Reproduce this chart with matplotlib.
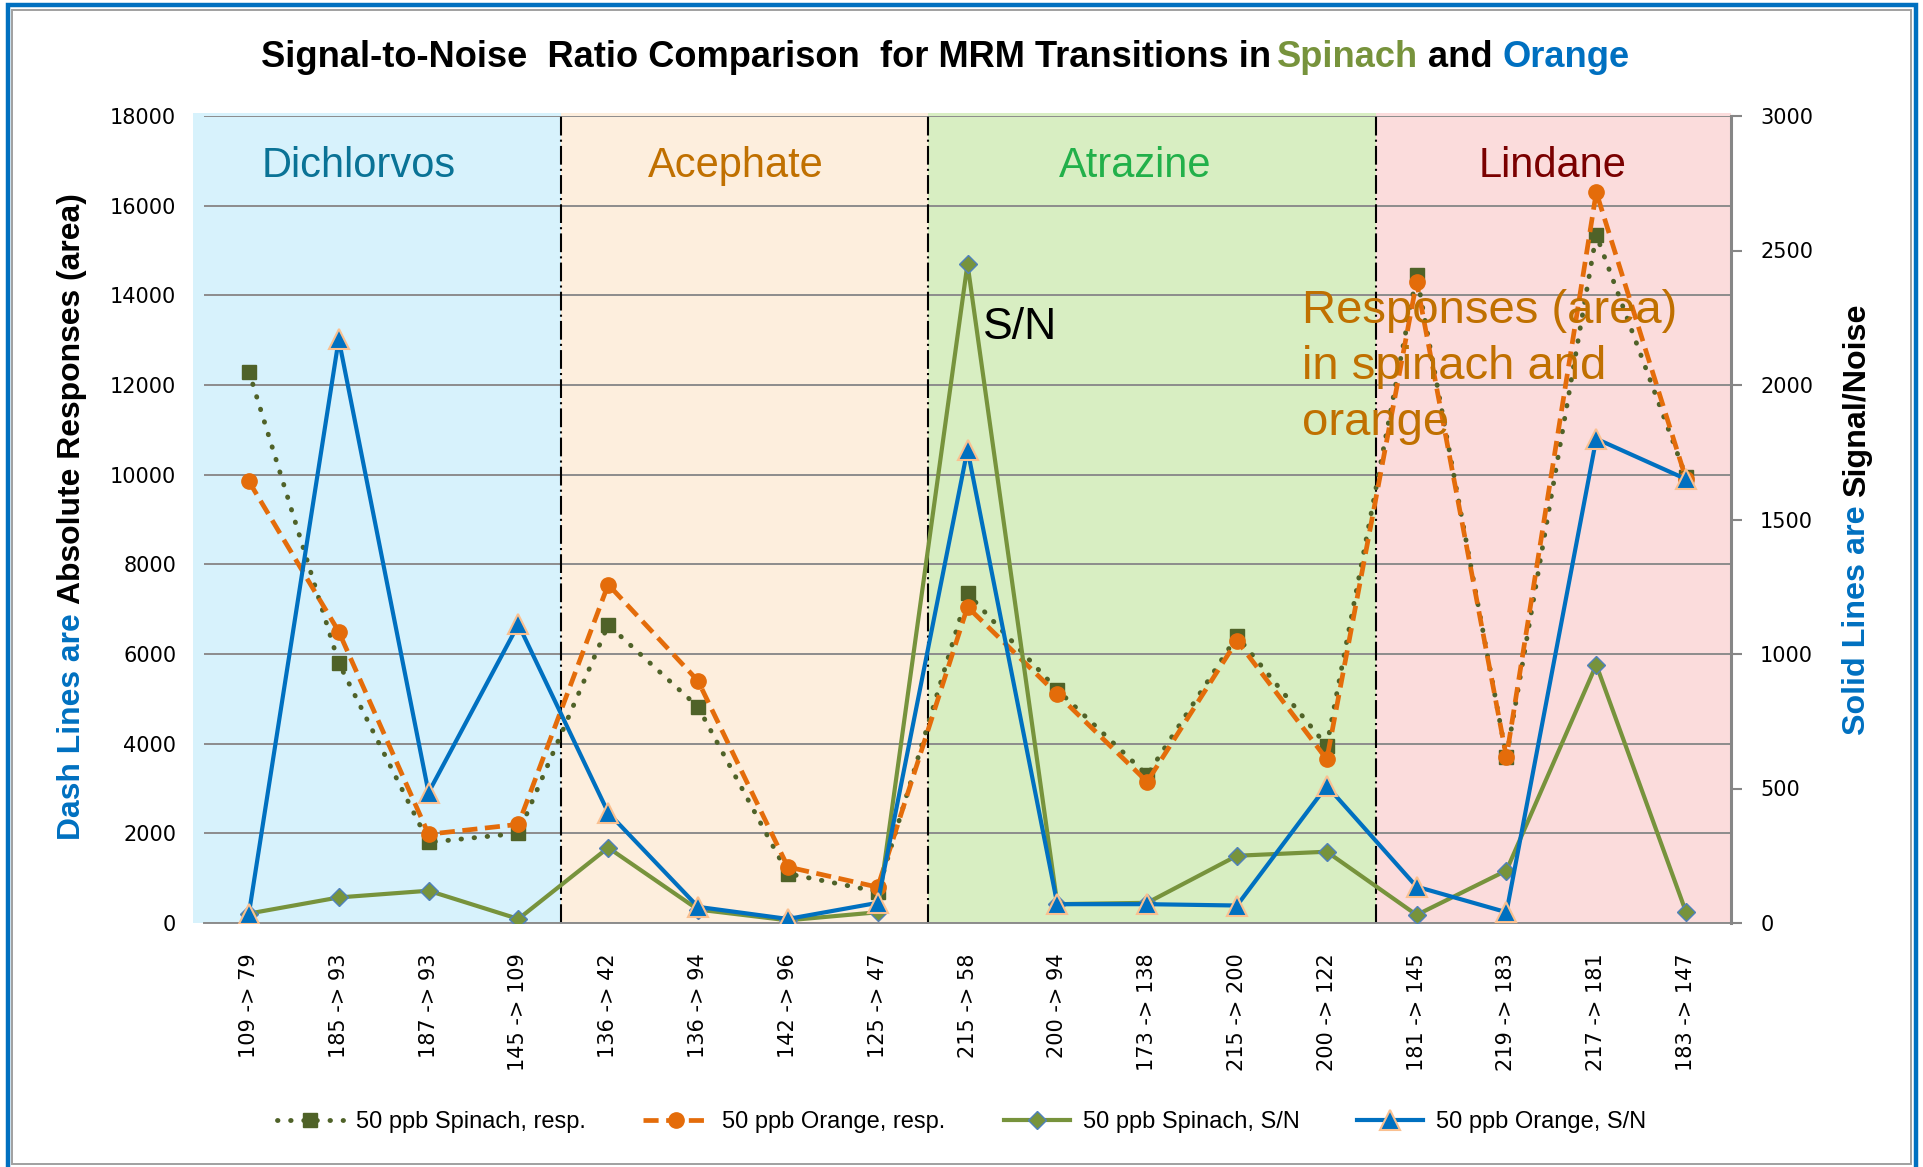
import matplotlib
matplotlib.use("Agg")
import matplotlib.pyplot as plt
from matplotlib import font_manager as fm
from matplotlib.patches import Rectangle
import numpy as np

# 數據
transitions = ["109 -> 79", "185 -> 93", "187 -> 93", "145 -> 109",
               "136 -> 42", "136 -> 94", "142 -> 96", "125 -> 47",
               "215 -> 58", "200 -> 94", "173 -> 138", "215 -> 200", "200 -> 122",
               "181 -> 145", "219 -> 183", "217 -> 181", "183 -> 147"]
spinach_resp = [12300, 5800, 1800, 2000, 6650, 4820, 1100, 700,
                7350, 5200, 3300, 6400, 3950, 14450, 3700, 15350, 9950]
orange_resp = [9850, 6500, 1980, 2200, 7550, 5400, 1250, 800,
               7050, 5100, 3150, 6300, 3650, 14300, 3700, 16300, 9900]
spinach_sn = [35, 95, 120, 15, 280, 50, 10, 40,
              2450, 70, 75, 250, 265, 30, 195, 960, 40]
orange_sn = [35, 2170, 485, 1110, 410, 60, 15, 75,
             1760, 70, 70, 65, 510, 135, 40, 1800, 1650]

compounds = ["Dichlorvos", "Acephate", "Atrazine", "Lindane"]
compound_colors = ["#0a7396", "#c07000", "#22b04a", "#7a0000"]
band_colors = ["#d7f2fc", "#fdeedd", "#d8eec2", "#fbdcdc"]
band_edges = [-0.62, 3.47, 7.56, 12.55, 16.5]

W, H = 1923, 1167
names = {f.name for f in fm.fontManager.ttflist}
NARROW = "Liberation Sans Narrow" if "Liberation Sans Narrow" in names else "Liberation Sans"

fig = plt.figure(figsize=(W / 100, H / 100), dpi=100)
ax = fig.add_axes([204 / W, 1 - 923 / H, (1731 - 204) / W, (923 - 116) / H])
ax2 = ax.twinx()

x = np.arange(len(transitions))

# === 背景色塊與分隔線 ===
for i, c in enumerate(band_colors):
    ax.axvspan(band_edges[i], band_edges[i + 1], ymin=0, ymax=1.004, color=c, lw=0, zorder=0, clip_on=False)
for xv in band_edges[1:4]:
    ax.axvline(xv, color="black", lw=1.5, ls=(0, (9, 2, 1, 2)), zorder=1.5)

ax.set_axisbelow(True)
ax.yaxis.grid(True, color="#8c8c8c", lw=1.4)

# === 資料線 ===
l1, = ax.plot(x, spinach_resp, color="#4f6228", lw=3.5, ls=(0, (0.1, 2.6)), dash_capstyle="round",
              marker="s", ms=10, mfc="#4f6228", mec="#4f6228", zorder=3)
l2, = ax.plot(x, orange_resp, color="#e46c0a", lw=3.4, ls=(0, (3.2, 1.6)),
              marker="o", ms=11, mfc="#e46c0a", mec="#e46c0a", zorder=3.1)
l3, = ax2.plot(x, spinach_sn, color="#77933c", lw=3, marker="D", ms=9,
               mfc="#77933c", mec="#4f81bd", mew=1, zorder=3)
l4, = ax2.plot(x, orange_sn, color="#0070c0", lw=3, marker="^", ms=15,
               mfc="#0070c0", mec="#fac090", mew=1.5, zorder=3.1)

ax.set_xlim(-0.5, 16.5)
ax.set_ylim(0, 18000)
ax2.set_ylim(0, 3000)
ax.set_yticks(range(0, 18001, 2000))
ax2.set_yticks(range(0, 3001, 500))
ax.set_xticks(x)
ax.set_xticklabels(transitions, rotation=90, fontsize=15, family="DejaVu Sans", va="top")
ax.tick_params(axis="x", length=0, pad=22)
ax.tick_params(axis="y", length=0, pad=20, labelsize=15)
ax2.tick_params(axis="y", length=8, width=1.5, color="#868686", pad=13, labelsize=15)

for sp in ["left", "top", "right"]:
    ax.spines[sp].set_visible(False)
ax.spines["bottom"].set_color("#8c8c8c")
ax.spines["bottom"].set_linewidth(1.4)
for sp in ["left", "top", "bottom"]:
    ax2.spines[sp].set_visible(False)
ax2.spines["right"].set_color("#868686")
ax2.spines["right"].set_linewidth(2.2)

# === 圖內文字 ===
compound_x = [359, 736, 1135, 1553]
for name, c, cx in zip(compounds, compound_colors, compound_x):
    fig.text(cx / W, 1 - 177 / H, name, color=c, fontsize=30, family="Liberation Sans",
             ha="center", va="baseline")
fig.text(983 / W, 1 - 339 / H, "S/N", color="black", fontsize=32, family="Liberation Sans",
         ha="left", va="baseline")
fig.text(1302 / W, 1 - 289 / H, "Responses (area)\nin spinach and\norange", color="#c07000",
         fontsize=34, family="Liberation Sans", ha="left", va="top", linespacing=1.36)

# === 多色標題與軸標籤 ===
renderer = fig.canvas.get_renderer()


def place_pieces(pieces, start, fixed, length, rotation=0, va="baseline"):
    base = 20

    def extent(s):
        t = fig.text(0, 0, s, fontsize=base, rotation=rotation, family=NARROW, fontweight="bold")
        bb = t.get_window_extent(renderer)
        t.remove()
        return bb.width if rotation == 0 else bb.height

    gap = extent("a a") - extent("aa")
    lens = [extent(s) for s, _ in pieces]
    scale = length / (sum(lens) + gap * (len(pieces) - 1))
    pos = start
    for (s, c), L in zip(pieces, lens):
        if rotation == 0:
            xy = (pos / W, fixed / H)
        else:
            xy = (fixed / W, pos / H)
        fig.text(*xy, s, color=c, fontsize=base * scale, rotation=rotation, family=NARROW,
                 fontweight="bold", ha="left", va=va, rotation_mode="anchor")
        pos += (L + gap) * scale


place_pieces([("Signal-to-Noise  Ratio Comparison  for MRM Transitions in", "black"),
              ("Spinach", "#77933c"), ("and", "black"), ("Orange", "#0070c0")],
             start=261, fixed=H - 67, length=1368)
place_pieces([("Dash Lines are", "#0070c0"), ("Absolute Responses (area)", "black")],
             start=H - 840, fixed=72, length=647, rotation=90, va="center")
place_pieces([("Solid Lines are", "#0070c0"), ("Signal/Noise", "black")],
             start=H - 735, fixed=1857, length=431, rotation=90, va="center")

# === 圖例 ===
fig.legend([l1, l2, l3, l4],
           ["50 ppb Spinach, resp.", "50 ppb Orange, resp.", "50 ppb Spinach, S/N", "50 ppb Orange, S/N"],
           loc="center", bbox_to_anchor=(0.5, 1 - 1122 / H), ncol=4, frameon=False,
           prop={"family": NARROW, "size": 17}, handlelength=2.8, handletextpad=0.55,
           columnspacing=2.45)

# === 外框 ===
fig.patches.append(Rectangle((8 / W, -0.02), (1915.5 - 8) / W, 1.02 - 5 / H, fill=False,
                             ec="#0070c0", lw=3.2, transform=fig.transFigure))
fig.patches.append(Rectangle((12 / W, 1 - 1164 / H), (1911 - 12) / W, (1164 - 10) / H, fill=False,
                             ec="#a0a0a0", lw=1.4, transform=fig.transFigure))

fig.savefig("out.png", dpi=100)
